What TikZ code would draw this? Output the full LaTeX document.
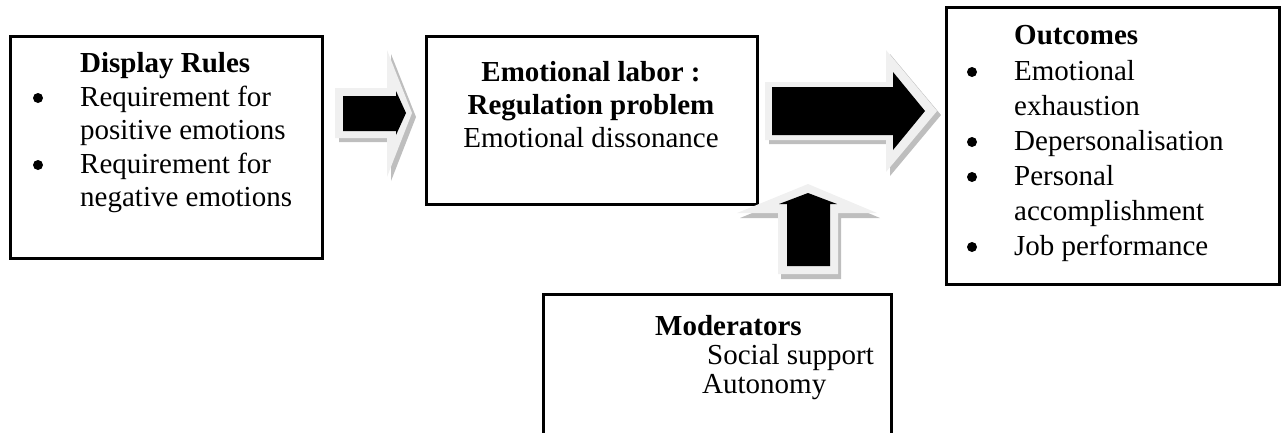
\documentclass[tikz,border=0pt]{standalone}
\usepackage{fontspec}
\setmainfont{Liberation Serif}
\definecolor{arrowface}{HTML}{F0F0F0}
\definecolor{arrowshade}{HTML}{BEBEBE}
\tikzset{
  box/.style={draw=black, line width=2.6pt, inner sep=0pt, anchor=north west},
  txt/.style={anchor=base west, inner sep=0pt, font=\fontsize{29}{34}\selectfont},
  hd/.style={txt, font=\fontsize{29}{34}\selectfont\bfseries},
  dot/.style={circle, fill=black, inner sep=0pt, minimum size=10pt},
  face/.style={fill=arrowface},
  shade/.style={fill=arrowshade},
  core/.style={fill=black},
}
\begin{document}
\begin{tikzpicture}[x=1pt, y=-1pt]
\useasboundingbox (0,0) rectangle (1284,432);

% ---------- boxes ----------
\node[box, minimum width=312pt, minimum height=222pt] (rules) at (9,35) {};
\node[box, minimum width=331pt, minimum height=168pt] (labor) at (425,35) {};
\node[box, minimum width=333pt, minimum height=277pt] (outc) at (945,6) {};
\node[box, minimum width=348pt, minimum height=160pt] (moder) at (542,293) {};

% ---------- display rules ----------
\node[hd]  (r0) at (80,72)  {Display Rules};
\node[dot] (rb1) at (38,98) {};
\node[txt] (r1) at (80,106) {Requirement for};
\node[txt] (r2) at (80,139) {positive emotions};
\node[dot] (rb2) at (38,165) {};
\node[txt] (r3) at (80,173) {Requirement for};
\node[txt] (r4) at (80,206) {negative emotions};

% ---------- emotional labor ----------
\node[hd, anchor=base] (l0) at (591,81)  {Emotional labor :};
\node[hd, anchor=base] (l1) at (591,114) {Regulation problem};
\node[txt, anchor=base] (l2) at (591,147) {Emotional dissonance};

% ---------- outcomes ----------
\node[hd]  (o0) at (1014,44)  {Outcomes};
\node[dot] (ob1) at (972,72)  {};
\node[txt] (o1) at (1014,80)  {Emotional};
\node[txt] (o2) at (1014,115) {exhaustion};
\node[dot] (ob2) at (972,142) {};
\node[txt] (o3) at (1014,150) {Depersonalisation};
\node[dot] (ob3) at (972,177) {};
\node[txt] (o4) at (1014,185) {Personal};
\node[txt] (o5) at (1014,220) {accomplishment};
\node[dot] (ob4) at (972,247) {};
\node[txt] (o6) at (1014,255) {Job performance};

% ---------- moderators ----------
\node[hd]  (m0) at (655,335) {Moderators};
\node[txt] (m1) at (707,364) {Social support};
\node[txt] (m2) at (702,393) {Autonomy};

% ---------- block arrows ----------
% rules -> labor
\fill[shade, shift={(4,4)}] (335,88) -- (387,88) -- (387,50) -- (412,113) -- (387,177) -- (387,138) -- (335,138) -- cycle;
\fill[face] (335,88) -- (387,88) -- (387,50) -- (412,113) -- (387,177) -- (387,138) -- (335,138) -- cycle;
\fill[core] (343,96) -- (396,96) -- (396,91) -- (406,113) -- (396,135) -- (396,131) -- (343,131) -- cycle;

% labor -> outcomes
\fill[shade, shift={(4,4)}] (765,82) -- (886,82) -- (886,50) -- (937,111) -- (886,172) -- (886,140) -- (765,140) -- cycle;
\fill[face] (765,82) -- (886,82) -- (886,50) -- (937,111) -- (886,172) -- (886,140) -- (765,140) -- cycle;
\fill[core] (772,87) -- (893,87) -- (893,72) -- (925,111) -- (893,150) -- (893,135) -- (772,135) -- cycle;

% moderators -> labor
\fill[shade, shift={(3,5)}] (778,274) -- (778,213) -- (737,213) -- (808,184) -- (877,213) -- (838,213) -- (838,274) -- cycle;
\fill[face] (778,274) -- (778,213) -- (737,213) -- (808,184) -- (877,213) -- (838,213) -- (838,274) -- cycle;
\fill[core] (787,266) -- (787,204) -- (779,204) -- (808,193) -- (837,204) -- (830,204) -- (830,266) -- cycle;
\end{tikzpicture}
\end{document}
